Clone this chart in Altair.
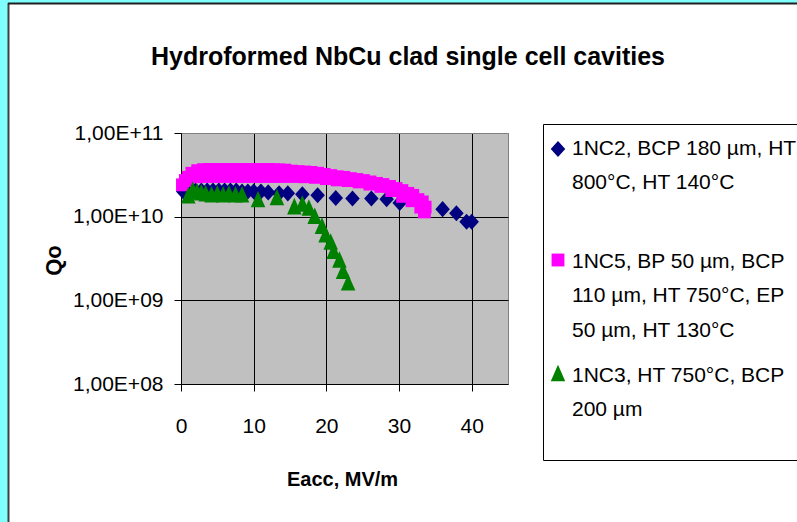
import altair as alt
import pandas as pd

# Accelerating field Eacc (MV/m) and quality factor Q0 for each cavity
e_1nc2 = [0.3, 1.2, 2.0, 2.8, 3.6, 4.4, 5.2, 6.0, 6.8, 7.6, 8.4, 9.2, 10.0, 11.0,
          12.0, 13.5, 14.7, 16.7, 18.8, 21.3, 23.6, 26.2, 28.3, 30.1, 36.0, 37.9,
          39.3, 40.0]
q_1nc2 = [2.0e10, 2.0e10, 2.05e10, 2.05e10, 2.05e10, 2.05e10, 2.05e10, 2.05e10,
          2.05e10, 2.05e10, 2.0e10, 2.0e10, 2.0e10, 2.0e10, 1.95e10, 1.9e10,
          1.9e10, 1.85e10, 1.8e10, 1.67e10, 1.65e10, 1.65e10, 1.62e10, 1.46e10,
          1.23e10, 1.1e10, 8.7e9, 8.7e9]

e_1nc5 = [1.5, 2.3, 3.1, 3.9, 4.7, 5.5, 6.3, 7.1, 7.9, 8.7, 9.5, 10.3, 11.1, 11.9,
          12.7, 13.5, 14.3, 15.2, 16.1, 17.0, 17.9, 18.8, 19.7, 20.6, 21.5, 22.4,
          23.3, 24.2, 25.1, 26.0, 26.9, 27.8, 28.7, 29.6, 30.4, 31.2, 31.9, 32.6,
          33.2, 33.6,
          0.2, 0.6, 1.0, 2.0, 3.5, 5.0, 6.5, 8.0, 9.5, 11.0, 12.5, 14.0, 15.5, 17.0,
          18.5, 20.0, 21.5, 23.0, 24.5, 26.0, 27.5, 29.0, 30.5, 31.8, 33.0, 33.5]
q_1nc5 = [3.3e10, 3.55e10, 3.65e10, 3.66e10, 3.66e10, 3.66e10, 3.66e10, 3.66e10,
          3.66e10, 3.66e10, 3.66e10, 3.66e10, 3.65e10, 3.65e10, 3.64e10, 3.62e10,
          3.6e10, 3.5e10, 3.45e10, 3.42e10, 3.38e10, 3.3e10, 3.2e10, 3.1e10,
          3.0e10, 2.95e10, 2.85e10, 2.78e10, 2.7e10, 2.6e10, 2.5e10, 2.42e10,
          2.3e10, 2.17e10, 2.05e10, 1.9e10, 1.8e10, 1.6e10, 1.5e10, 1.3e10,
          2.4e10, 2.7e10, 2.95e10, 3.0e10, 3.02e10, 3.02e10, 3.02e10, 3.02e10,
          3.02e10, 3.02e10, 3.02e10, 3.02e10, 3.02e10, 3.0e10, 2.95e10, 2.85e10,
          2.75e10, 2.7e10, 2.6e10, 2.45e10, 2.3e10, 2.05e10, 1.75e10, 1.55e10,
          1.3e10, 1.14e10]

e_1nc3 = [1.0, 1.6, 2.2, 2.8, 3.4, 4.2, 5.0, 5.8, 6.6, 7.5, 8.4, 10.6, 13.2, 15.6,
          16.7, 17.6, 18.4, 19.4, 19.9, 20.6, 21.0, 21.8, 22.3, 23.0]
q_1nc3 = [1.75e10, 2.05e10, 1.95e10, 1.9e10, 1.85e10, 1.8e10, 1.85e10, 1.8e10,
          1.85e10, 1.8e10, 1.8e10, 1.58e10, 1.67e10, 1.3e10, 1.4e10, 1.25e10,
          1.0e10, 7.6e9, 6.0e9, 4.9e9, 3.8e9, 3.0e9, 2.2e9, 1.6e9]

series_keys = ["1NC2", "1NC5", "1NC3"]
legend_lines = [
    ["1NC2, BCP 180 µm, HT", "800°C, HT 140°C"],
    ["1NC5, BP 50 µm, BCP", "110 µm, HT 750°C, EP", "50 µm, HT 130°C"],
    ["1NC3, HT 750°C, BCP", "200 µm"],
]
series_colors = ["#000080", "#FF00FF", "#008000"]

x_ticks = [0, 10, 20, 30, 40]
y_ticks = [1e8, 1e9, 1e10, 1e11]
y_tick_labels = ["1,00E+08", "1,00E+09", "1,00E+10", "1,00E+11"]

title_text = "Hydroformed NbCu clad single cell cavities"
x_title = "Eacc, MV/m"
y_title = "Qo"

FONT = "Liberation Sans, Arial, sans-serif"
SHAPES = ["M0,-1L0.9,0L0,1L-0.9,0Z", "square", "M0,-1.15L0.9,0.9L-0.9,0.9Z"]
SIZES = [260, 165, 260]

W, H = 327, 251

frames = [
    pd.DataFrame({"E": e_1nc2, "Q": q_1nc2}),
    pd.DataFrame({"E": e_1nc5, "Q": q_1nc5}),
    pd.DataFrame({"E": e_1nc3, "Q": q_1nc3}),
]

label_expr = " : ".join(
    f"abs(datum.value - {v:g}) < {v * 0.01:g} ? '{lab}'"
    for v, lab in zip(y_ticks, y_tick_labels)
) + " : ''"

x_enc = alt.X(
    "E:Q",
    scale=alt.Scale(domain=[0, 45], nice=False, zero=False),
    axis=alt.Axis(
        values=x_ticks, grid=True, gridColor="black", gridWidth=1,
        domainColor="black", tickColor="black", tickSize=7,
        labelFont=FONT, labelFontSize=21, labelColor="black",
        labelPadding=24, labelBaseline="top", labelFlush=False,
        title=x_title, titleFont=FONT, titleFontSize=20, titleFontWeight="bold",
        titleColor="black", titleX=161, titleY=101, titleBaseline="alphabetic",
        titleAlign="center",
    ),
)
y_enc = alt.Y(
    "Q:Q",
    scale=alt.Scale(type="log", domain=[1e8, 1e11], nice=False),
    axis=alt.Axis(
        values=y_ticks, grid=True, gridWidth=1,
        gridColor={"condition": {"test": "datum.value >= 9e10 || datum.value <= 1.1e8",
                                 "value": "#808080"}, "value": "black"},
        domainColor="black", tickColor="black", tickSize=7,
        labelExpr=label_expr, labelFont=FONT, labelFontSize=21,
        labelColor="black", labelPadding=11, labelFlush=False,
        title=y_title, titleFont=FONT, titleFontSize=22, titleFontWeight="bold",
        titleColor="black", titleAngle=270, titleX=-121, titleY=127,
        titleBaseline="alphabetic", titleAlign="center",
    ),
)

one = pd.DataFrame({"k": [0]})

# page decoration: cyan margin strips, dark frame edge, legend box
left_strip = alt.Chart(one).mark_rect(color="#80FFFF").encode(
    x=alt.value(-181), x2=alt.value(-173), y=alt.value(-133), y2=alt.value(389))
top_strip = alt.Chart(one).mark_rect(color="#80FFFF").encode(
    x=alt.value(-181), x2=alt.value(616), y=alt.value(-133), y2=alt.value(-130))
left_edge = alt.Chart(one).mark_rule(color="#404040", strokeWidth=2).encode(
    x=alt.value(-172.5), y=alt.value(-130), y2=alt.value(389))
top_edge = alt.Chart(one).mark_rule(color="#202020", strokeWidth=2).encode(
    x=alt.value(-173), x2=alt.value(616), y=alt.value(-129.5))
legend_box = alt.Chart(one).mark_rect(fill="white", stroke="black", strokeWidth=1).encode(
    x=alt.value(362.5), x2=alt.value(700), y=alt.value(-8.5), y2=alt.value(327.5))

series_layers = []
for df, shape, size, color in zip(frames, SHAPES, SIZES, series_colors):
    series_layers.append(
        alt.Chart(df).mark_point(
            filled=True, shape=shape, size=size, color=color, opacity=1, strokeWidth=0
        ).encode(x=x_enc, y=y_enc)
    )

legend_layers = []
sym_y = [16, 127, 241]
text_y = [21.5, 134.5, 248.5]
for lines, shape, size, color, sy, ty in zip(legend_lines, SHAPES, SIZES, series_colors,
                                             sym_y, text_y):
    legend_layers.append(
        alt.Chart(one).mark_point(
            filled=True, shape=shape, size=size, color=color, opacity=1, strokeWidth=0
        ).encode(x=alt.value(377), y=alt.value(sy))
    )
    legend_layers.append(
        alt.Chart(one).mark_text(
            align="left", baseline="alphabetic", lineBreak="\n", lineHeight=34.5,
            font=FONT, fontSize=21, color="black"
        ).encode(x=alt.value(391), y=alt.value(ty), text=alt.value("\n".join(lines)))
    )

title_layer = alt.Chart(one).mark_text(
    align="center", baseline="alphabetic", font=FONT, fontSize=25,
    fontWeight="bold", color="black"
).encode(x=alt.value(227), y=alt.value(-68), text=alt.value(title_text))

chart = alt.layer(
    left_strip, top_strip, left_edge, top_edge, legend_box,
    *series_layers, *legend_layers, title_layer,
).properties(
    width=W, height=H,
    autosize=alt.AutoSizeParams(type="none"),
    padding={"left": 181, "top": 133, "right": 289, "bottom": 138},
    background="white",
).configure_view(
    fill="#C0C0C0", stroke="#808080", strokeWidth=1
)

chart.save("out.html", embed_options={"renderer": "svg", "actions": False})
